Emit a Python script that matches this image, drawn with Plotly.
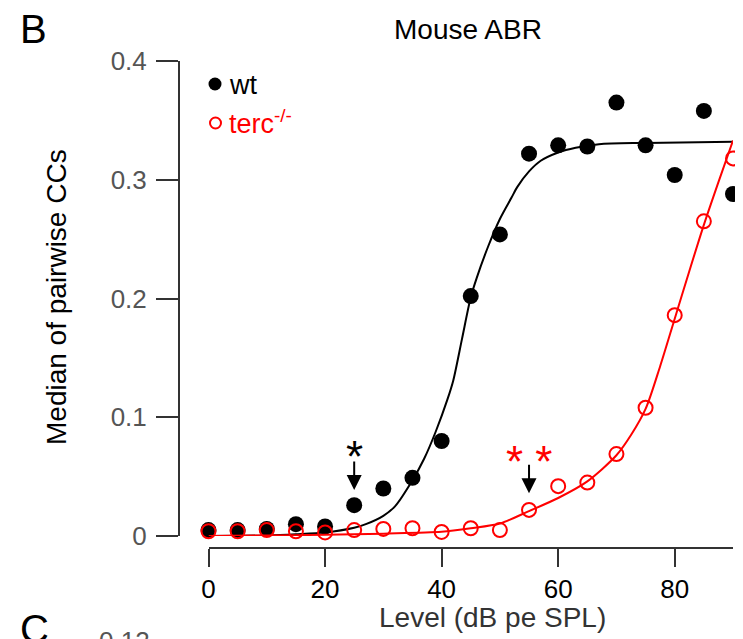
import plotly.graph_objects as go

# ---------------- data ----------------
levels = [0, 5, 10, 15, 20, 25, 30, 35, 40, 45, 50, 55, 60, 65, 70, 75, 80, 85, 90]
wt_median = [0.005, 0.005, 0.006, 0.010, 0.008, 0.026, 0.040, 0.049, 0.080, 0.202,
             0.254, 0.322, 0.329, 0.328, 0.365, 0.329, 0.304, 0.358, 0.288]
terc_median = [0.004, 0.004, 0.005, 0.004, 0.003, 0.005, 0.006, 0.0065, 0.0034, 0.0065,
               0.005, 0.022, 0.042, 0.045, 0.069, 0.108, 0.186, 0.265, 0.318]

# fitted curves
wt_fit_x = [0, 10, 15, 20, 25, 27, 30, 32, 35, 37, 39, 41, 42, 43.5, 45, 46, 48, 50, 52,
            53, 55, 57, 60, 63, 67, 75, 90]
wt_fit_y = [0.0, 0.0005, 0.0015, 0.003, 0.007, 0.010, 0.017, 0.025, 0.047, 0.065, 0.088,
            0.115, 0.131, 0.166, 0.201, 0.217, 0.244, 0.267, 0.285,
            0.294, 0.307, 0.316, 0.323, 0.327, 0.330, 0.331, 0.332]
terc_fit_x = [0, 10, 20, 30, 40, 45, 50, 55, 60, 65, 70, 72.5, 75, 77.5, 80, 82.5, 85, 87.5, 90]
terc_fit_y = [0.0, 0.0005, 0.001, 0.002, 0.0035, 0.0065, 0.0105, 0.021, 0.032, 0.046, 0.068,
              0.085, 0.107, 0.143, 0.183, 0.223, 0.262, 0.298, 0.333]

x_ticks = [0, 20, 40, 60, 80]
y_ticks = [0, 0.1, 0.2, 0.3, 0.4]
y_tick_labels = ["0", "0.1", "0.2", "0.3", "0.4"]

# ---------------- layout helpers ----------------
W, H = 743, 639
OFF = 8  # page body margin offset
def px(x):
    return (x - OFF) / W
def py(y):
    return 1 - (y - OFF) / H

FONT = "Liberation Sans, Arial, sans-serif"
AX = "#333333"

fig = go.Figure()
fig.add_trace(go.Scatter(x=wt_fit_x, y=wt_fit_y, mode="lines",
                         line=dict(color="black", width=2, shape="spline", smoothing=0.8),
                         showlegend=False, cliponaxis=False))
fig.add_trace(go.Scatter(x=levels, y=wt_median, mode="markers",
                         marker=dict(color="black", size=16, line=dict(width=0)),
                         showlegend=False, cliponaxis=False))
fig.add_trace(go.Scatter(x=terc_fit_x, y=terc_fit_y, mode="lines",
                         line=dict(color="#ff0000", width=2, shape="spline", smoothing=0.8),
                         showlegend=False, cliponaxis=False))
fig.add_trace(go.Scatter(x=levels, y=terc_median, mode="markers",
                         marker=dict(symbol="circle-open", color="#ff0000", size=14,
                                     line=dict(width=2, color="#ff0000")),
                         showlegend=False, cliponaxis=False))

annotations = [
    dict(text="B", x=px(18), y=py(29), xref="paper", yref="paper", xanchor="left",
         yanchor="middle", showarrow=False, font=dict(size=40, color="black", family=FONT)),
    dict(text="C", x=px(18), y=py(629), xref="paper", yref="paper", xanchor="left",
         yanchor="middle", showarrow=False, font=dict(size=40, color="black", family=FONT)),
    dict(text="0.12", x=px(152), y=py(641), xref="paper", yref="paper", xanchor="right",
         yanchor="middle", showarrow=False, font=dict(size=26, color="#555555", family=FONT)),
    dict(text="Mouse ABR", x=px(468), y=py(29), xref="paper", yref="paper", xanchor="center",
         yanchor="middle", showarrow=False, font=dict(size=28, color="black", family=FONT)),
    # axis titles
    dict(text="Level (dB pe SPL)", x=px(493), y=py(617), xref="paper", yref="paper",
         xanchor="center", yanchor="middle", showarrow=False,
         font=dict(size=28, color="#333333", family=FONT)),
    dict(text="Median of pairwise CCs", x=px(56), y=py(297), xref="paper", yref="paper",
         xanchor="center", yanchor="middle", showarrow=False, textangle=-90,
         font=dict(size=28, color="black", family=FONT)),
    # legend text
    dict(text="wt", x=px(227), y=py(85), xref="paper", yref="paper", xanchor="left",
         yanchor="middle", showarrow=False, font=dict(size=27, color="black", family=FONT)),
    dict(text="terc<sup>-/-</sup>", x=px(227), y=py(122), xref="paper", yref="paper",
         xanchor="left", yanchor="middle", showarrow=False,
         font=dict(size=27, color="#ff0000", family=FONT)),
    # significance marks
    dict(text="*", x=25, y=0.067, xref="x", yref="y", showarrow=False, yanchor="middle",
         font=dict(size=44, color="black", family=FONT)),
    dict(text="* *", x=55, y=0.063, xref="x", yref="y", showarrow=False, yanchor="middle",
         font=dict(size=44, color="#ff0000", family=FONT)),
    dict(text="", x=25, y=0.0387, xref="x", yref="y", ax=0, ay=-30, showarrow=True,
         arrowhead=2, arrowsize=1.5, arrowwidth=2, arrowcolor="black"),
    dict(text="", x=55, y=0.036, xref="x", yref="y", ax=0, ay=-30, showarrow=True,
         arrowhead=2, arrowsize=1.5, arrowwidth=2, arrowcolor="black"),
]

shapes = [
    dict(type="circle", xref="paper", yref="paper", x0=px(208.5), x1=px(221.5),
         y0=py(90.5), y1=py(77.5), fillcolor="black", line=dict(width=0)),
    dict(type="circle", xref="paper", yref="paper", x0=px(210), x1=px(221),
         y0=py(128.5), y1=py(117.5), fillcolor="rgba(0,0,0,0)",
         line=dict(width=2, color="#ff0000")),
]

fig.update_layout(
    width=W, height=H,
    margin=dict(l=0, r=0, t=0, b=0, autoexpand=False),
    paper_bgcolor="white", plot_bgcolor="white",
    showlegend=False,
    font=dict(family=FONT),
    xaxis=dict(domain=[px(208.5), px(733)], range=[0, 90], anchor="free", position=py(548),
               automargin=False,
               showgrid=False, zeroline=False, showline=True, linecolor=AX, linewidth=2,
               ticks="outside", ticklen=18, tickwidth=2, tickcolor=AX,
               tickvals=x_ticks, ticktext=[str(v) for v in x_ticks],
               tickfont=dict(size=26, color="black", family=FONT),
               ticklabelstandoff=0),
    yaxis=dict(domain=[py(536), py(61)], range=[0, 0.4], anchor="free", position=px(179),
               automargin=False,
               showgrid=False, zeroline=False, showline=True, linecolor=AX, linewidth=2,
               ticks="outside", ticklen=22, tickwidth=2, tickcolor=AX,
               tickvals=y_ticks, ticktext=y_tick_labels,
               tickfont=dict(size=26, color="#555555", family=FONT),
               ticklabelstandoff=4),
    annotations=annotations,
    shapes=shapes,
)

fig.write_html("out.html")
